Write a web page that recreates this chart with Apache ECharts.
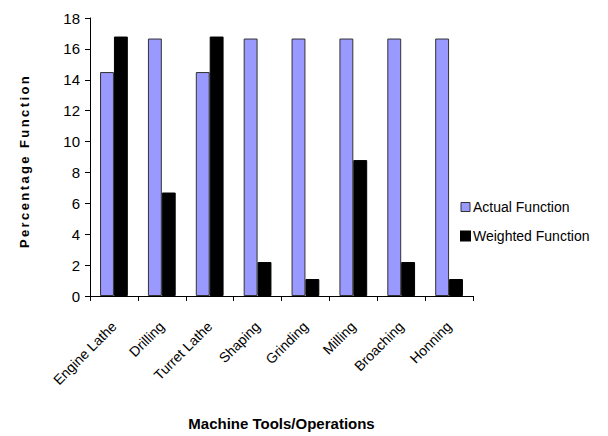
<!DOCTYPE html>
<html>
<head>
<meta charset="utf-8">
<script src="https://cdn.jsdelivr.net/npm/echarts@6/dist/echarts.min.js"></script>
<style>html,body{margin:0;padding:0;background:#fff}#c{width:608px;height:436px}</style>
</head>
<body>
<div id="c"></div>
<script>
var categories = ["Engine Lathe", "Drilling", "Turret Lathe", "Shaping", "Grinding", "Milling", "Broaching", "Honning"];
var actualFunction = [14.5, 16.67, 14.5, 16.67, 16.67, 16.67, 16.67, 16.67];
var weightedFunction = [16.8, 6.7, 16.8, 2.2, 1.1, 8.8, 2.2, 1.1];
var yTicks = [0, 2, 4, 6, 8, 10, 12, 14, 16, 18];

var chart = echarts.init(document.getElementById('c'), null, {renderer: 'svg'});
var font = '"Liberation Sans", Arial, sans-serif';
chart.setOption({
  animation: false,
  textStyle: {fontFamily: font},
  grid: {left: 90, right: 135, top: 18, bottom: 140, containLabel: false},
  legend: {
    orient: 'vertical', left: 455, top: 195,
    itemWidth: 9, itemHeight: 9, itemGap: 15,
    icon: 'rect',
    textStyle: {fontSize: 14, color: '#000', fontFamily: font, padding: [0, 0, 0, -2]},
    data: [
      {name: 'Actual Function', itemStyle: {color: '#9999FF', borderColor: '#333', borderWidth: 1}},
      {name: 'Weighted Function', itemStyle: {color: '#000'}}
    ]
  },
  xAxis: {
    type: 'category', data: categories,
    name: 'Machine Tools/Operations', nameLocation: 'middle', nameGap: 120,
    nameTextStyle: {fontSize: 15, fontWeight: 'bold', color: '#000', fontFamily: font},
    axisLine: {lineStyle: {color: '#000', width: 1}},
    axisTick: {show: true, alignWithLabel: false, length: 5, lineStyle: {color: '#000'}},
    axisLabel: {rotate: 45, interval: 0, fontSize: 14, color: '#000', margin: 28, fontFamily: font}
  },
  yAxis: {
    type: 'value', min: 0, max: 18, interval: 2,
    name: 'Percentage Function', nameLocation: 'middle', nameGap: 59,
    nameTextStyle: {fontSize: 13, fontWeight: 'bold', color: '#000', fontFamily: font, padding: [0, 8, 0, 0]},
    axisLine: {show: true, lineStyle: {color: '#000', width: 1}},
    axisTick: {show: true, length: 5, lineStyle: {color: '#000'}},
    splitLine: {show: false},
    axisLabel: {fontSize: 15, color: '#000', margin: 10, fontFamily: font,
      formatter: function (v) { return yTicks.indexOf(v) >= 0 ? String(v) : ''; }}
  },
  series: [
    {name: 'Actual Function', type: 'bar', data: actualFunction, barWidth: '29%', barGap: '0%',
     itemStyle: {color: '#9999FF', borderColor: '#333', borderWidth: 1}},
    {name: 'Weighted Function', type: 'bar', data: weightedFunction, barWidth: '29%', barGap: '0%',
     itemStyle: {color: '#000', borderColor: '#000', borderWidth: 1}}
  ]
});
// mimic the letter-spaced axis title of the original
setTimeout(function () {
  var texts = document.querySelectorAll('#c svg text');
  texts.forEach(function (t) {
    if (t.textContent === 'Percentage Function') t.setAttribute('letter-spacing', '2.4');
  });
}, 0);
</script>
</body>
</html>
